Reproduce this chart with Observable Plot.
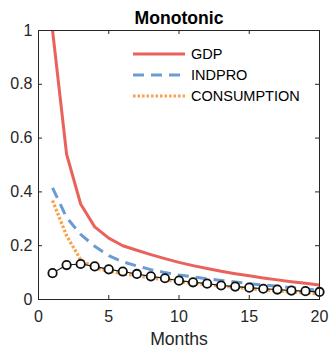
<!DOCTYPE html>
<html><head><meta charset="utf-8">
<script src="https://cdn.jsdelivr.net/npm/d3@7"></script>
<script src="https://cdn.jsdelivr.net/npm/@observablehq/plot@0.6"></script>
<style>body{margin:0;background:#fff}</style>
</head><body><div id="chart"></div>
<script>
const months = [1,2,3,4,5,6,7,8,9,10,11,12,13,14,15,16,17,18,19,20];
const gdp = [1.0,0.54,0.355,0.27,0.228,0.2,0.183,0.167,0.152,0.138,0.126,0.115,0.105,0.096,0.088,0.08,0.073,0.066,0.06,0.054];
const indpro = [0.415,0.305,0.242,0.198,0.163,0.14,0.125,0.111,0.1,0.091,0.084,0.077,0.071,0.065,0.059,0.054,0.049,0.044,0.039,0.034];
const consumption = [0.368,0.237,0.148,0.118,0.105,0.096,0.089,0.08,0.073,0.067,0.06,0.055,0.05,0.045,0.04,0.036,0.032,0.028,0.025,0.021];
const monotonic = [0.098,0.128,0.132,0.123,0.112,0.104,0.095,0.086,0.079,0.07,0.064,0.059,0.052,0.048,0.044,0.04,0.037,0.033,0.031,0.028];
const seriesNames = ["GDP","INDPRO","CONSUMPTION"];
const xTicks = [0,5,10,15,20];
const yTicks = [0,0.2,0.4,0.6,0.8,1];
const titleText = "Monotonic";
const xLabel = "Months";

const colors = {GDP:"#e9625b", INDPRO:"#6b9bd2", CONSUMPTION:"#f7a24c"};
const dashes = {GDP:null, INDPRO:"11,7", CONSUMPTION:"2.6,1.9"};
const valuesBy = {GDP:gdp, INDPRO:indpro, CONSUMPTION:consumption};
const rows = name => months.map((m,i)=>({x:m, y:valuesBy[name][i]}));
const mono = months.map((m,i)=>({x:m, y:monotonic[i]}));

const W=330, H=348, mT=30, mB=49, mL=38, mR=11;
const fh = H-mT-mB, fw = W-mL-mR;
const axisColor = "#262626";
const font = "'Liberation Sans', Arial, Helvetica, sans-serif";

const chart = Plot.plot({
  width: W, height: H,
  marginTop: mT, marginBottom: mB, marginLeft: mL, marginRight: mR,
  style: {fontFamily: font, fontSize: "16px", color: axisColor, background: "#fff"},
  x: {domain: [0,20]},
  y: {domain: [0,1]},
  marks: [
    ...seriesNames.map(n => Plot.line(rows(n), {x:"x", y:"y", stroke: colors[n], strokeWidth: n==="CONSUMPTION"?3.3:3, strokeDasharray: dashes[n], strokeLinecap: "butt", clip: true})),
    Plot.line(mono, {x:"x", y:"y", stroke:"#111", strokeWidth: 1.1}),
    Plot.dot(mono, {x:"x", y:"y", r: 4.2, fill:"#fff", stroke:"#111", strokeWidth: 1.8}),
    Plot.frame({stroke: axisColor, strokeWidth: 1}),
    Plot.tickX(xTicks, {x: d=>d, stroke: axisColor, insetTop: fh-4}),
    Plot.tickX(xTicks, {x: d=>d, stroke: axisColor, insetBottom: fh-4}),
    Plot.tickY(yTicks, {y: d=>d, stroke: axisColor, insetRight: fw-4}),
    Plot.tickY(yTicks, {y: d=>d, stroke: axisColor, insetLeft: fw-4}),
    Plot.axisX({ticks: xTicks, tickSize: 0, tickPadding: 11, tickFormat: d=>String(d), label: null, fill: axisColor}),
    Plot.axisY({ticks: yTicks, tickSize: 0, tickPadding: 6, tickFormat: d=>String(d), label: null, fill: axisColor}),
    Plot.text([titleText], {text: d=>d, frameAnchor: "top", dy: -19, fontWeight: "bold", fontSize: 17.6, fill: "#000"}),
    Plot.text([xLabel], {text: d=>d, frameAnchor: "bottom", dy: 45, fontSize: 17.6, fill: axisColor})
  ]
});
document.getElementById("chart").appendChild(chart);

// legend
const svg = d3.select(chart);
const lg = svg.append("g").attr("text-anchor","start");
seriesNames.forEach((n,i)=>{
  const y = 54 + i*21;
  lg.append("line").attr("x1",133).attr("x2",185).attr("y1",y).attr("y2",y)
    .attr("stroke",colors[n]).attr("stroke-width",3).attr("stroke-dasharray",dashes[n]);
  lg.append("text").attr("x",191).attr("y",y).attr("dy","0.36em").attr("text-anchor","start")
    .attr("font-size","14.5px").attr("font-family",font).attr("fill","#000").text(n);
});
</script>
</body></html>
